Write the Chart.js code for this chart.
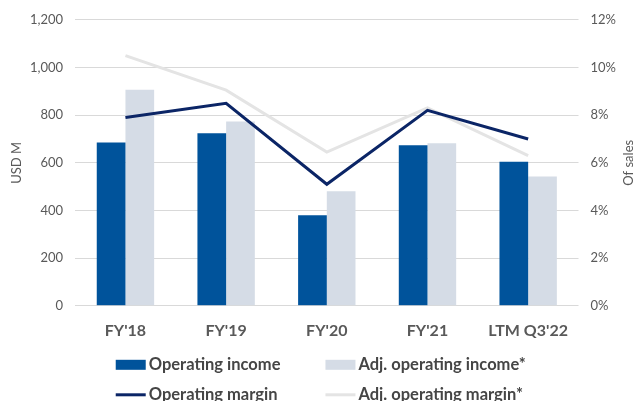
<!DOCTYPE html>
<html>
<head>
<meta charset="utf-8">
<script src="https://cdn.jsdelivr.net/npm/chart.js@4"></script>
<style>
  html, body { margin: 0; padding: 0; background: #fff; overflow: hidden; }
  #wrap { width: 636px; height: 401px; }
</style>
</head>
<body>
<div id="wrap"><canvas id="chart"></canvas></div>
<script>
const categories = ["FY'18", "FY'19", "FY'20", "FY'21", "LTM Q3'22"];
const operatingIncome = [685, 724, 380, 674, 604];
const adjOperatingIncome = [906, 773, 481, 682, 543];
const operatingMargin = [7.9, 8.5, 5.1, 8.2, 7.0];
const adjOperatingMargin = [10.5, 9.05, 6.45, 8.3, 6.3];
const leftTicks = [0, 200, 400, 600, 800, 1000, 1200];
const rightTicks = [0, 2, 4, 6, 8, 10, 12];

Chart.defaults.font.family = 'Lato';
Chart.defaults.color = '#595959';

// legend drawn as a 2x2 grid under the axis, plus both axis titles
const gridLegend = {
  id: 'gridLegend',
  afterDraw(chart) {
    const ctx = chart.ctx;
    const area = chart.chartArea;
    const sets = chart.data.datasets;
    ctx.save();
    ctx.font = 'bold 16.5px Lato';
    const colW = [0, 0];
    sets.forEach((ds, i) => {
      const w = 33 + ctx.measureText(ds.label).width;
      colW[i % 2] = Math.max(colW[i % 2], w);
    });
    const gap = 45;
    const x0 = (area.left + area.right) / 2 - 6 - (colW[0] + gap + colW[1]) / 2;
    sets.forEach((ds, i) => {
      const col = i % 2, row = Math.floor(i / 2);
      const x = x0 + (col ? colW[0] + gap : 0);
      const y = area.bottom + 59 + row * 30;
      if (ds.type === 'line') {
        ctx.strokeStyle = ds.borderColor;
        ctx.lineWidth = ds.borderWidth;
        ctx.beginPath();
        ctx.moveTo(x, y);
        ctx.lineTo(x + 30, y);
        ctx.stroke();
      } else {
        ctx.fillStyle = ds.backgroundColor;
        ctx.fillRect(x, y - 5, 30, 10);
      }
      ctx.fillStyle = '#454545';
      ctx.textBaseline = 'middle';
      ctx.textAlign = 'left';
      ctx.fillText(ds.label, x + 33, y);
    });

    // axis titles, both reading bottom to top
    const midY = (area.top + area.bottom) / 2;
    ctx.font = '13px Lato';
    ctx.fillStyle = '#595959';
    ctx.textAlign = 'center';
    [[17, 'USD M'], [chart.width - 7, 'Of sales']].forEach(([tx, text]) => {
      ctx.save();
      ctx.translate(tx, midY);
      ctx.rotate(-Math.PI / 2);
      ctx.fillText(text, 0, 0);
      ctx.restore();
    });
    ctx.restore();
  }
};

new Chart(document.getElementById('chart'), {
  data: {
    labels: categories,
    datasets: [
      {
        type: 'bar',
        label: 'Operating income',
        data: operatingIncome,
        backgroundColor: '#00539b',
        yAxisID: 'y',
        order: 1
      },
      {
        type: 'bar',
        label: 'Adj. operating income*',
        data: adjOperatingIncome,
        backgroundColor: '#d5dce6',
        yAxisID: 'y',
        order: 1
      },
      {
        type: 'line',
        label: 'Operating margin',
        data: operatingMargin,
        borderColor: '#0b2566',
        borderWidth: 3,
        pointRadius: 0,
        tension: 0,
        yAxisID: 'y1',
        order: 0
      },
      {
        type: 'line',
        label: 'Adj. operating margin*',
        data: adjOperatingMargin,
        borderColor: '#e4e4e4',
        borderWidth: 3,
        pointRadius: 0,
        tension: 0,
        yAxisID: 'y1',
        order: 0
      }
    ]
  },
  options: {
    responsive: true,
    maintainAspectRatio: false,
    animation: false,
    layout: { padding: { top: 18, left: 18, right: 8, bottom: 54 } },
    datasets: {
      bar: { categoryPercentage: 0.57, barPercentage: 1.0 }
    },
    plugins: {
      legend: { display: false },
      tooltip: { enabled: false }
    },
    scales: {
      x: {
        grid: { display: false },
        border: { display: false },
        ticks: { padding: 7, font: { size: 16, weight: 'bold' }, color: '#595959' }
      },
      y: {
        position: 'left',
        min: 0,
        max: 1200,
        afterBuildTicks: (scale) => { scale.ticks = leftTicks.map(v => ({ value: v })); },
        grid: { color: '#d9d9d9', drawTicks: false },
        border: { display: false },
        ticks: {
          padding: 12,
          font: { size: 13 },
          callback: (v) => v.toLocaleString('en-US')
        }
      },
      y1: {
        position: 'right',
        min: 0,
        max: 12,
        afterBuildTicks: (scale) => { scale.ticks = rightTicks.map(v => ({ value: v })); },
        grid: { display: false, drawTicks: false },
        border: { display: false },
        ticks: {
          padding: 12,
          font: { size: 13 },
          callback: (v) => v + '%'
        }
      }
    }
  },
  plugins: [gridLegend]
});
</script>
</body>
</html>
